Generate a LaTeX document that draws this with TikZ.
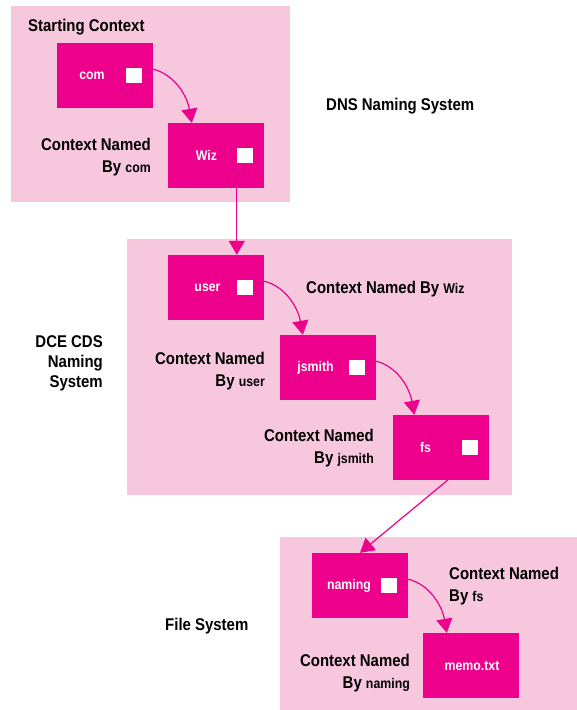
\documentclass[tikz,border=0pt]{standalone}
\usepackage{fontspec}
\setmainfont{Liberation Sans}[FakeStretch=0.88]
\usetikzlibrary{positioning,arrows.meta}
\definecolor{hpmagenta}{RGB}{236,0,140}
\definecolor{hppink}{RGB}{247,200,221}
\newcommand{\byname}[1]{{\fontsize{14}{22}\selectfont #1}}

\begin{document}
\begin{tikzpicture}[x=1pt, y=1pt,
  ctx/.style={fill=hpmagenta, minimum width=96pt, minimum height=65pt, inner sep=0pt},
  slot/.style={fill=white, minimum width=16pt, minimum height=15pt, inner sep=0pt},
  boxtext/.style={text=white, font=\bfseries\fontsize{14}{16}\selectfont, inner sep=0pt},
  note/.style={font=\bfseries\fontsize{17}{22}\selectfont, inner sep=0pt},
  link/.style={draw=hpmagenta, line width=1.2pt, -{Triangle[width=16pt,length=14pt]}}]
\useasboundingbox (0,0) rectangle (577,-710);

% naming systems
\fill[hppink] (11,-6) rectangle (290,-202);
\fill[hppink] (127,-239) rectangle (512,-495);
\fill[hppink] (280,-537) rectangle (577,-710);

\node[note, anchor=base west] (start) at (28,-31) {Starting Context};
\node[note, anchor=base west] (dns) at (326,-110) {DNS Naming System};
\node[note, anchor=base east, align=right] (dce) at (103,-387) {DCE CDS\\[-2pt]Naming\\[-2pt]System};
\node[note, anchor=base west] (files) at (165,-630) {File System};

% contexts
\node[ctx] (com) at (105,-75.5) {};
\node[ctx] (wiz) at (216,-155.5) {};
\node[ctx] (user) at (216,-287.5) {};
\node[ctx] (jsmith) at (328,-367.5) {};
\node[ctx] (fs) at (440.5,-447.5) {};
\node[ctx] (naming) at (360,-585.5) {};
\node[ctx] (memo) at (471,-665.5) {};

\node[boxtext] (comt) at ([xshift=-13pt]com.center) {com};
\node[boxtext] (wizt) at ([xshift=-9.5pt]wiz.center) {Wiz};
\node[boxtext] (usert) at ([xshift=-8.5pt]user.center) {user};
\node[boxtext] (jsmitht) at ([xshift=-12.5pt]jsmith.center) {jsmith};
\node[boxtext] (fst) at ([xshift=-15pt]fs.center) {fs};
\node[boxtext] (namingt) at ([xshift=-11pt]naming.center) {naming};
\node[boxtext] (memot) at ([xshift=1pt]memo.center) {memo.txt};

\node[slot, left=11pt of com.east] (comp) {};
\node[slot, left=11pt of wiz.east] (wizp) {};
\node[slot, left=11pt of user.east] (userp) {};
\node[slot, left=11pt of jsmith.east] (jsmithp) {};
\node[slot, left=11pt of fs.east] (fsp) {};
\node[slot, left=11pt of naming.east] (namingp) {};

\node[note, anchor=base east, align=right] (bycom) at (151,-172) {Context Named\\By \byname{com}};
\node[note, anchor=base west] (bywiz) at (306,-293) {Context Named By \byname{Wiz}};
\node[note, anchor=base east, align=right] (byuser) at (265,-386) {Context Named\\By \byname{user}};
\node[note, anchor=base east, align=right] (byjsmith) at (374,-463) {Context Named\\By \byname{jsmith}};
\node[note, anchor=base west, align=left] (byfs) at (449,-601) {Context Named\\By \byname{fs}};
\node[note, anchor=base east, align=right] (bynaming) at (410,-688) {Context Named\\By \byname{naming}};

% bindings
\draw[link] (comp.north east) to[out=0, in=100] ([xshift=24pt]wiz.north west);
\draw[link] (wizp.south west) -- (wizp.south west |- user.north);
\draw[link] (userp.north east) to[out=0, in=100] ([xshift=23pt]jsmith.north west);
\draw[link] (jsmithp.north east) to[out=0, in=100] ([xshift=22pt]fs.north west);
\draw[link] (fsp.south east) -- (naming.north);
\draw[link] (namingp.north east) to[out=0, in=100] ([xshift=24pt]memo.north west);
\end{tikzpicture}
\end{document}
